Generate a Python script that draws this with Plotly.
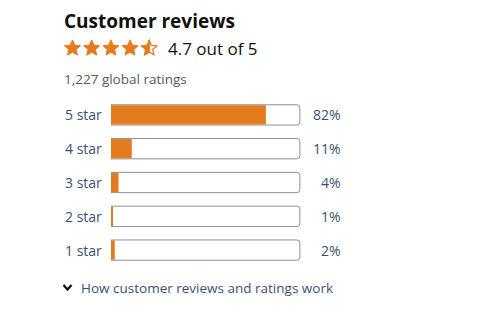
import math
import plotly.graph_objects as go

# ---- data ----
categories = ["5 star", "4 star", "3 star", "2 star", "1 star"]
percentages = [82, 11, 4, 1, 2]
average_rating = 4.7
total_ratings = "1,227"

W, H = 495, 312
L, R_, T, B = 111, 194, 98, 45
PW, PH = W - L - R_, H - T - B

def px(x):
    return (x - L) / PW

def py(y):
    return (H - B - y) / PH

FONT = "Open Sans"
ORANGE = "#E47B1F"
LINK = "#3A5272"
DARK = "#0F1111"
GRAY = "#565959"

fig = go.Figure()
fig.add_trace(go.Bar(
    y=categories, x=[100] * len(categories), orientation="h",
    marker=dict(color="white", line=dict(color="#8D9096", width=1), cornerradius=3),
    width=0.6, hoverinfo="skip", showlegend=False,
))
fig.add_trace(go.Bar(
    y=categories, x=percentages, orientation="h",
    marker=dict(color=ORANGE, line=dict(width=0)),
    width=0.57, hoverinfo="skip", showlegend=False,
))

annotations = []
for cat, p in zip(categories, percentages):
    annotations.append(dict(x=px(63), xref="paper", y=cat, yref="y", text=cat,
                            xanchor="left", yanchor="middle", showarrow=False,
                            font=dict(family=FONT, size=14, color=LINK)))
    annotations.append(dict(x=px(343), xref="paper", y=cat, yref="y", text=f"{p}%",
                            xanchor="right", yanchor="middle", showarrow=False,
                            font=dict(family=FONT, size=14, color=LINK)))

annotations += [
    dict(x=px(62), xref="paper", y=py(21), yref="paper", text="<b>Customer reviews</b>",
         xanchor="left", yanchor="middle", showarrow=False,
         font=dict(family=FONT, size=19, color=DARK)),
    dict(x=px(166), xref="paper", y=py(48), yref="paper", text=f"{average_rating} out of 5",
         xanchor="left", yanchor="middle", showarrow=False,
         font=dict(family=FONT, size=17, color=DARK)),
    dict(x=px(62), xref="paper", y=py(79), yref="paper", text=f"{total_ratings} global ratings",
         xanchor="left", yanchor="middle", showarrow=False,
         font=dict(family=FONT, size=13.5, color=GRAY)),
    dict(x=px(79), xref="paper", y=py(288), yref="paper", text="How customer reviews and ratings work",
         xanchor="left", yanchor="middle", showarrow=False,
         font=dict(family=FONT, size=13.5, color=LINK)),
]

def star_pts(cx, cy, Ro, Ri, angles):
    pts = []
    for k, a in angles:
        r = Ro if k == "o" else Ri
        pts.append((cx + r * math.cos(math.radians(a)), cy + r * math.sin(math.radians(a))))
    return pts

def to_path(pts):
    return "M " + " L ".join(f"{px(x):.5f},{py(y):.5f}" for x, y in pts) + " Z"

full_angles = []
for i in range(10):
    a = -90 + 36 * i
    full_angles.append(("o" if i % 2 == 0 else "i", a))
half_angles = [("i", 90), ("o", 126), ("i", 162), ("o", 198), ("i", 234), ("o", 270)]

shapes = []
Ro, Ri = 8.4, 3.9
cy = 48.3
full = int(average_rating // 1)
frac = average_rating - full
for i in range(5):
    cx = 72.5 + 19.2 * i
    if i < full:
        shapes.append(dict(type="path", xref="paper", yref="paper",
                           path=to_path(star_pts(cx, cy, Ro, Ri, full_angles)),
                           fillcolor=ORANGE, line=dict(color=ORANGE, width=1)))
    else:
        shapes.append(dict(type="path", xref="paper", yref="paper",
                           path=to_path(star_pts(cx, cy, Ro - 0.6, Ri - 0.3, full_angles)),
                           fillcolor="white", line=dict(color=ORANGE, width=1.3)))
        if frac >= 0.25:
            shapes.append(dict(type="path", xref="paper", yref="paper",
                               path=to_path(star_pts(cx, cy, Ro, Ri, half_angles)),
                               fillcolor=ORANGE, line=dict(color=ORANGE, width=1)))

# chevron
shapes.append(dict(type="path", xref="paper", yref="paper",
                   path=f"M {px(63.5):.5f},{py(285):.5f} L {px(67.5):.5f},{py(289.5):.5f} L {px(71.5):.5f},{py(285):.5f}",
                   line=dict(color=DARK, width=2.2)))

fig.update_layout(
    width=W, height=H, margin=dict(l=L, r=R_, t=T, b=B),
    paper_bgcolor="white", plot_bgcolor="white",
    barmode="overlay",
    xaxis=dict(range=[0, 100.6], visible=False, fixedrange=True),
    yaxis=dict(categoryorder="array", categoryarray=categories, autorange="reversed",
               visible=False, fixedrange=True),
    annotations=annotations, shapes=shapes,
    font=dict(family=FONT),
)

fig.write_html("out.html", config={"displayModeBar": False})
